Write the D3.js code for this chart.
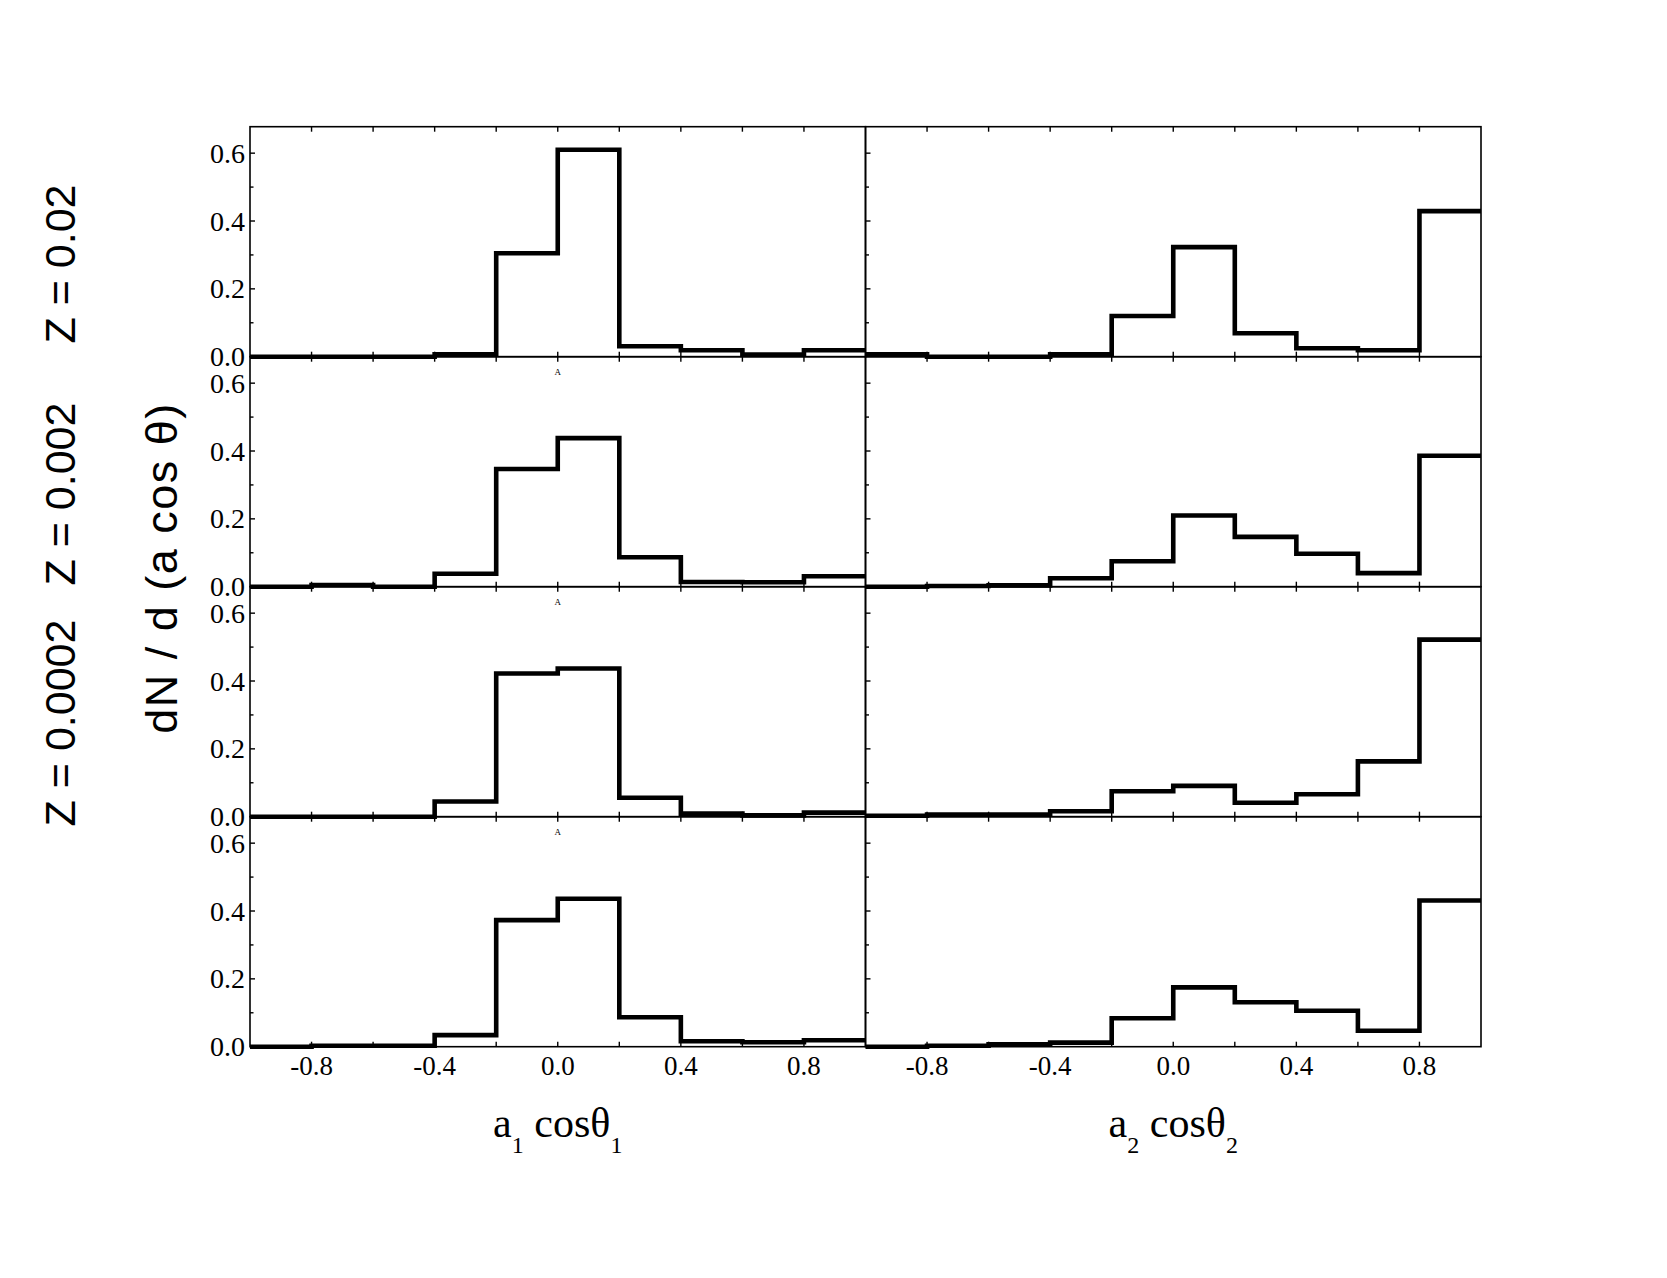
<!DOCTYPE html>
<html>
<head>
<meta charset="utf-8">
<script src="https://cdn.jsdelivr.net/npm/d3@7"></script>
<style>
  body { margin: 0; background: #fff; }
  svg { display: block; }
</style>
</head>
<body>
<div id="chart"></div>
<script>
// spin component histograms, four metallicity rows, two columns

var binEdges = [-1.0, -0.8, -0.6, -0.4, -0.2, 0.0, 0.2, 0.4, 0.6, 0.8, 1.0];

var row1_a1 = [0, 0, 0, 0.007, 0.305, 0.61, 0.031, 0.019, 0.006, 0.019];
var row1_a2 = [0.007, 0, 0, 0.007, 0.12, 0.323, 0.069, 0.025, 0.019, 0.429];
var row2_a1 = [0, 0.005, 0, 0.038, 0.347, 0.438, 0.087, 0.014, 0.013, 0.031];
var row2_a2 = [0, 0.002, 0.004, 0.025, 0.075, 0.21, 0.147, 0.097, 0.04, 0.386];
var row3_a1 = [0, 0, 0, 0.045, 0.422, 0.437, 0.056, 0.009, 0.004, 0.012];
var row3_a2 = [0.003, 0.006, 0.006, 0.016, 0.075, 0.091, 0.041, 0.066, 0.163, 0.522];
var row4_a1 = [0, 0.003, 0.003, 0.034, 0.373, 0.436, 0.087, 0.016, 0.013, 0.019];
var row4_a2 = [0, 0.003, 0.007, 0.012, 0.084, 0.175, 0.131, 0.106, 0.047, 0.431];

var rows = [[row1_a1, row1_a2], [row2_a1, row2_a2], [row3_a1, row3_a2], [row4_a1, row4_a2]];
var rowLabels = ["Z = 0.02", "Z = 0.002", "Z = 0.0002"];
var rowLabelY = [264, 494, 723];

var xTicks = [-0.8, -0.6, -0.4, -0.2, 0.0, 0.2, 0.4, 0.6, 0.8];
var xTickLabels = [-0.8, -0.4, 0.0, 0.4, 0.8];
var yTicks = [0.1, 0.2, 0.3, 0.4, 0.5, 0.6];
var yTickLabels = [0.0, 0.2, 0.4, 0.6];

var W = 1667, H = 1278;
var left = 250, panelW = 615.5, top0 = 126.7, panelH = 230;

var svg = d3.select("#chart").append("svg")
    .attr("width", W)
    .attr("height", H);

var y = d3.scaleLinear().domain([0, 0.678]).range([panelH, 0]);
var fmt = d3.format(".1f");

var line = d3.line()
    .x(function(d) { return d[0]; })
    .y(function(d) { return d[1]; })
    .curve(d3.curveStepAfter);

rows.forEach(function(row, r) {
  row.forEach(function(vals, c) {
    var x = d3.scaleLinear().domain([-1, 1]).range([0, panelW]);
    var g = svg.append("g")
        .attr("transform", "translate(" + (left + c * panelW) + "," + (top0 + r * panelH) + ")");

    // step histogram
    var pts = vals.map(function(v, i) { return [x(binEdges[i]), y(v)]; });
    pts.push([x(binEdges[binEdges.length - 1]), y(vals[vals.length - 1])]);
    g.append("path")
        .attr("d", line(pts))
        .attr("fill", "none")
        .attr("stroke", "#000")
        .attr("stroke-width", 4.6)
        .attr("stroke-linejoin", "miter");

    // frame
    g.append("rect")
        .attr("width", panelW).attr("height", panelH)
        .attr("fill", "none").attr("stroke", "#000").attr("stroke-width", 1.6);

    // inward ticks, bottom and top
    g.selectAll(".xb").data(xTicks).enter().append("line")
        .attr("x1", function(d) { return x(d); }).attr("x2", function(d) { return x(d); })
        .attr("y1", panelH).attr("y2", panelH - 5)
        .attr("stroke", "#000").attr("stroke-width", 1.4);
    g.selectAll(".xt").data(xTicks).enter().append("line")
        .attr("x1", function(d) { return x(d); }).attr("x2", function(d) { return x(d); })
        .attr("y1", 0).attr("y2", 5)
        .attr("stroke", "#000").attr("stroke-width", 1.4);

    // left ticks
    g.selectAll(".yl").data(yTicks).enter().append("line")
        .attr("x1", 0)
        .attr("x2", function(d, i) { return i % 2 ? 5 : 3.5; })
        .attr("y1", function(d) { return y(d); }).attr("y2", function(d) { return y(d); })
        .attr("stroke", "#000").attr("stroke-width", 1.4);

    if (c === 0) {
      g.selectAll(".ylab").data(yTickLabels).enter().append("text")
          .attr("x", -5)
          .attr("y", function(d) { return y(d); })
          .attr("dy", "0.34em")
          .attr("text-anchor", "end")
          .attr("font-family", "Liberation Serif, serif")
          .attr("font-size", 28)
          .text(function(d) { return fmt(d); });
      if (r > 0) {
        g.append("text")
            .attr("x", x(0)).attr("y", 18)
            .attr("text-anchor", "middle")
            .attr("font-family", "Liberation Serif, serif")
            .attr("font-size", 9)
            .text("A");
      }
    }

    if (r === rows.length - 1) {
      g.selectAll(".xlab").data(xTickLabels).enter().append("text")
          .attr("x", function(d) { return x(d); })
          .attr("y", panelH + 28.5)
          .attr("text-anchor", "middle")
          .attr("font-family", "Liberation Serif, serif")
          .attr("font-size", 27)
          .text(function(d) { return fmt(d).replace("\u2212", "-"); });

      var t = g.append("text")
          .attr("x", panelW / 2).attr("y", panelH + 90)
          .attr("text-anchor", "middle")
          .attr("font-family", "Liberation Serif, serif")
          .attr("font-size", 42);
      t.append("tspan").text("a");
      t.append("tspan").attr("font-size", 24).attr("dy", 16).text(c === 0 ? "1" : "2");
      t.append("tspan").attr("dy", -16).text("\u00a0cos\u03b8");
      t.append("tspan").attr("font-size", 24).attr("dy", 16).text(c === 0 ? "1" : "2");
    }
  });
});

// row labels
rowLabels.forEach(function(lab, i) {
  svg.append("text")
      .attr("transform", "translate(75," + rowLabelY[i] + ") rotate(-90)")
      .attr("text-anchor", "middle")
      .attr("font-family", "Liberation Sans, Arial, sans-serif")
      .attr("font-size", 43)
      .text(lab);
});

svg.append("text")
    .attr("transform", "translate(177,568) rotate(-90)")
    .attr("text-anchor", "middle")
    .attr("font-family", "Liberation Sans, Arial, sans-serif")
    .attr("font-size", 45)
    .attr("letter-spacing", 1.5)
    .text("dN / d (a cos \u03b8)");
</script>
</body>
</html>
